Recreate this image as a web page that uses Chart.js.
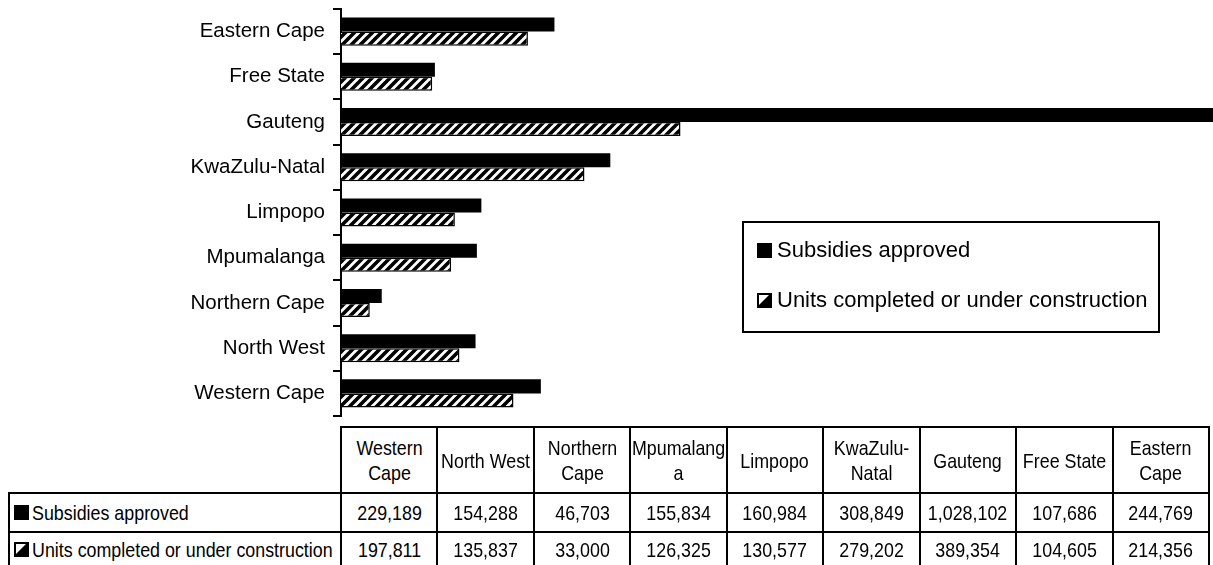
<!DOCTYPE html>
<html>
<head>
<meta charset="utf-8">
<script src="https://cdn.jsdelivr.net/npm/chart.js@4.4.0/dist/chart.umd.min.js"></script>
<style>
  html, body { margin: 0; padding: 0; background: #fff; }
  #wrap { position: relative; width: 1213px; height: 565px; overflow: hidden; }
  #c { position: absolute; left: 0; top: 0; }
  .cell {
    position: absolute; box-sizing: border-box; border: 2px solid #000;
    display: flex; align-items: center; justify-content: center; text-align: center;
    font-family: "Liberation Sans", Arial, sans-serif;
    font-size: 21px; line-height: 25px; color: #000; padding: 0;
    background: #fff; overflow: visible;
  }
  .cell .txt {
    display: inline-block; flex: none; overflow-wrap: anywhere;
    transform: scaleX(0.85); transform-origin: 50% 50%;
  }
  .rowhead { justify-content: flex-start; text-align: left; padding-left: 4px; }
  .rowhead canvas { margin-right: 3px; flex: none; }
  .rowhead .txt { white-space: nowrap; transform-origin: 0 50%; }
</style>
</head>
<body>
<div id="wrap">
  <canvas id="c" width="1213" height="565"></canvas>
  <div id="table"></div>
</div>
<script>
// Housing delivery by province
const categories = ['Western Cape', 'North West', 'Northern Cape', 'Mpumalanga', 'Limpopo', 'KwaZulu-Natal', 'Gauteng', 'Free State', 'Eastern Cape'];
const seriesNames = ['Subsidies approved', 'Units completed or under construction'];
const subsidiesApproved = [229189, 154288, 46703, 155834, 160984, 308849, 1028102, 107686, 244769];
const unitsCompleted = [197811, 135837, 33000, 126325, 130577, 279202, 389354, 104605, 214356];
const valueAxisMax = 1000000;

const FONT = '"Liberation Sans", Arial, sans-serif';
const NARROW = 0.85;

// Wide upward diagonal hatch
function makeHatch() {
  const size = 9;
  const t = document.createElement('canvas');
  t.width = size; t.height = size;
  const g = t.getContext('2d');
  g.fillStyle = '#fff';
  g.fillRect(0, 0, size, size);
  g.strokeStyle = '#000';
  g.lineWidth = 3.6;
  g.beginPath();
  for (let k = -1; k <= 1; k++) {
    g.moveTo(k * size - 1, size + 1);
    g.lineTo(k * size + size + 1, -1);
  }
  g.stroke();
  return g.createPattern(t, 'repeat');
}

// Legend key glyphs
function drawKey(g, x, y, s, kind) {
  g.save();
  g.fillStyle = '#000';
  g.fillRect(x, y, s, s);
  if (kind === 1) {
    g.fillStyle = '#fff';
    g.beginPath();
    g.moveTo(x + 2, y + 2);
    g.lineTo(x + s - 3, y + 2);
    g.lineTo(x + 2, y + s - 3);
    g.closePath();
    g.fill();
  }
  g.restore();
}

const ctx = document.getElementById('c').getContext('2d');
const hatch = makeHatch();

const legendBox = {
  id: 'legendBox',
  afterDraw(chart) {
    const g = chart.ctx;
    const x0 = 743, y0 = 222, x1 = 1159, y1 = 332;
    g.save();
    g.fillStyle = '#fff';
    g.fillRect(x0, y0, x1 - x0, y1 - y0);
    g.strokeStyle = '#000';
    g.lineWidth = 2;
    g.strokeRect(x0, y0, x1 - x0, y1 - y0);
    g.font = '22px ' + FONT;
    g.fillStyle = '#000';
    g.textBaseline = 'middle';
    chart.data.datasets.forEach((ds, i) => {
      const cy = 250 + i * 50;
      drawKey(g, 757, cy - 7, 15, i);
      g.fillText(ds.label, 777, cy + 1);
    });
    g.restore();
  }
};

new Chart(ctx, {
  type: 'bar',
  data: {
    labels: categories,
    datasets: [
      { label: seriesNames[0], data: subsidiesApproved, backgroundColor: '#000', borderWidth: 0 },
      { label: seriesNames[1], data: unitsCompleted, backgroundColor: hatch, borderColor: '#000', borderWidth: 1.5 }
    ]
  },
  options: {
    indexAxis: 'y',
    responsive: false,
    animation: false,
    categoryPercentage: 0.62,
    barPercentage: 1,
    layout: { padding: { top: 9, bottom: 149, left: 0, right: 0 } },
    plugins: { legend: { display: false }, tooltip: { enabled: false } },
    scales: {
      x: { display: false, min: 0, max: valueAxisMax },
      y: {
        reverse: true,
        afterFit(s) { s.width = 341; s.paddingTop = 0; s.paddingBottom = 0; },
        border: { display: true, color: '#000', width: 2 },
        grid: { display: true, offset: true, drawOnChartArea: false, drawTicks: true, tickLength: 8, color: '#000', lineWidth: 2 },
        ticks: { color: '#000', padding: 8, font: { family: FONT, size: 20.5 } }
      }
    }
  },
  plugins: [legendBox]
});

// Data table under the plot
const table = document.getElementById('table');
const colLeft = 341, colRight = 1209, rowLeft = 9;
const rowY = [427, 493, 532, 566];
const colW = (colRight - colLeft) / categories.length;
const fmt = v => v.toLocaleString('en-US');

function cell(x0, y0, x1, y1, cls, text, icon) {
  const d = document.createElement('div');
  d.className = 'cell' + (cls ? ' ' + cls : '');
  const w = x1 - x0 + 2;
  d.style.left = (x0 - 1) + 'px';
  d.style.top = (y0 - 1) + 'px';
  d.style.width = w + 'px';
  d.style.height = (y1 - y0 + 2) + 'px';
  if (icon !== undefined) {
    const k = document.createElement('canvas');
    k.width = 15; k.height = 15;
    drawKey(k.getContext('2d'), 0, 0, 15, icon);
    d.appendChild(k);
  }
  const s = document.createElement('span');
  s.className = 'txt';
  if (!cls) s.style.width = ((w - 4) / NARROW) + 'px';
  s.textContent = text;
  d.appendChild(s);
  table.appendChild(d);
  return d;
}

categories.forEach((name, i) => {
  const x0 = colLeft + i * colW, x1 = x0 + colW;
  cell(x0, rowY[0], x1, rowY[1], '', name);
  cell(x0, rowY[1], x1, rowY[2], '', fmt(subsidiesApproved[i]));
  cell(x0, rowY[2], x1, rowY[3], '', fmt(unitsCompleted[i]));
});

seriesNames.forEach((name, i) => {
  cell(rowLeft, rowY[i + 1], colLeft, rowY[i + 2], 'rowhead', name, i);
});
</script>
</body>
</html>
